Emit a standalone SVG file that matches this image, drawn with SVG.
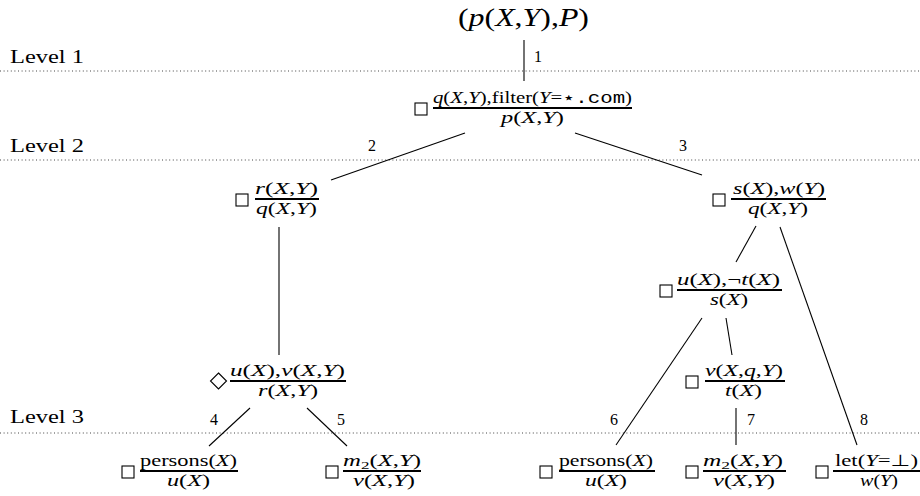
<svg xmlns="http://www.w3.org/2000/svg" width="920" height="496" viewBox="0 0 920 496">
<style>
text{font-family:"Liberation Serif","DejaVu Serif",serif;fill:#000}
.i{font-style:italic}
.tt{font-family:"Liberation Mono","DejaVu Sans Mono",monospace}
.sy{font-family:"DejaVu Sans",sans-serif}
.f{font-size:16px}
.root{font-size:25px}
.lvl{font-size:19px}
.lab{font-size:16px}
.box{fill:none;stroke:#000;stroke-width:1.1}
.bar{stroke:#000;stroke-width:2}
.dot{stroke:#444;stroke-width:1;stroke-dasharray:1 2.6}
#edges line{stroke:#000;stroke-width:1.1}
</style>
<defs>
<rect id="bx" class="box" x="-6" y="-6" width="12" height="12"/>
</defs>
<g id="levels">
<line class="dot" x1="0" y1="71" x2="920" y2="71"/>
<line class="dot" x1="0" y1="160" x2="920" y2="160"/>
<line class="dot" x1="0" y1="433" x2="920" y2="433"/>
<text class="lvl" x="10" y="63" textLength="74" lengthAdjust="spacingAndGlyphs">Level 1</text>
<text class="lvl" x="10" y="152" textLength="74" lengthAdjust="spacingAndGlyphs">Level 2</text>
<text class="lvl" x="10" y="423" textLength="74" lengthAdjust="spacingAndGlyphs">Level 3</text>
</g>
<g id="edges">
<line x1="524" y1="40" x2="524" y2="81"/>
<line x1="465" y1="133" x2="331" y2="180"/>
<line x1="575" y1="133" x2="702" y2="175"/>
<line x1="279" y1="227" x2="279" y2="355"/>
<line x1="756" y1="226" x2="736" y2="262"/>
<line x1="780" y1="227" x2="857" y2="445"/>
<line x1="702" y1="318" x2="616" y2="445"/>
<line x1="726" y1="318" x2="732" y2="355"/>
<line x1="250" y1="408" x2="209" y2="446"/>
<line x1="307" y1="408" x2="347" y2="446"/>
<line x1="736" y1="408" x2="736" y2="445"/>
<text class="lab" x="534" y="62">1</text>
<text class="lab" x="368" y="151">2</text>
<text class="lab" x="679" y="151">3</text>
<text class="lab" x="210" y="425">4</text>
<text class="lab" x="337" y="425">5</text>
<text class="lab" x="610" y="425">6</text>
<text class="lab" x="747" y="425">7</text>
<text class="lab" x="860" y="425">8</text>
</g>
<g id="root">
<text class="root" x="458" y="26" textLength="131" lengthAdjust="spacingAndGlyphs">(<tspan class="i">p</tspan>(<tspan class="i">X</tspan>,<tspan class="i">Y</tspan>),<tspan class="i">P</tspan>)</text>
</g>
<g id="n1">
<use href="#bx" x="421" y="109"/>
<text class="f" x="433" y="103" textLength="199" lengthAdjust="spacingAndGlyphs"><tspan class="i">q</tspan>(<tspan class="i">X</tspan>,<tspan class="i">Y</tspan>),filter(<tspan class="i">Y</tspan>=<tspan class="sy">⋆</tspan><tspan class="tt">.com</tspan>)</text>
<line class="bar" x1="433" y1="108" x2="632" y2="108"/>
<text class="f" x="501" y="123" textLength="63" lengthAdjust="spacingAndGlyphs"><tspan class="i">p</tspan>(<tspan class="i">X</tspan>,<tspan class="i">Y</tspan>)</text>
</g>
<g id="n2">
<use href="#bx" x="242" y="200"/>
<text class="f" x="255" y="194" textLength="63" lengthAdjust="spacingAndGlyphs"><tspan class="i">r</tspan>(<tspan class="i">X</tspan>,<tspan class="i">Y</tspan>)</text>
<line class="bar" x1="255" y1="199" x2="319" y2="199"/>
<text class="f" x="256" y="214" textLength="61" lengthAdjust="spacingAndGlyphs"><tspan class="i">q</tspan>(<tspan class="i">X</tspan>,<tspan class="i">Y</tspan>)</text>
</g>
<g id="n3">
<use href="#bx" x="719" y="200"/>
<text class="f" x="733" y="194" textLength="92" lengthAdjust="spacingAndGlyphs"><tspan class="i">s</tspan>(<tspan class="i">X</tspan>),<tspan class="i">w</tspan>(<tspan class="i">Y</tspan>)</text>
<line class="bar" x1="731" y1="199" x2="826" y2="199"/>
<text class="f" x="748" y="214" textLength="60" lengthAdjust="spacingAndGlyphs"><tspan class="i">q</tspan>(<tspan class="i">X</tspan>,<tspan class="i">Y</tspan>)</text>
</g>
<g id="n4">
<use href="#bx" x="666" y="291"/>
<text class="f" x="677" y="285" textLength="103" lengthAdjust="spacingAndGlyphs"><tspan class="i">u</tspan>(<tspan class="i">X</tspan>),¬<tspan class="i">t</tspan>(<tspan class="i">X</tspan>)</text>
<line class="bar" x1="677" y1="290" x2="782" y2="290"/>
<text class="f" x="710" y="305" textLength="38" lengthAdjust="spacingAndGlyphs"><tspan class="i">s</tspan>(<tspan class="i">X</tspan>)</text>
</g>
<g id="n5">
<polygon class="box" points="218.5,373 226.5,381 218.5,389 210.5,381"/>
<text class="f" x="230" y="376" textLength="115" lengthAdjust="spacingAndGlyphs"><tspan class="i">u</tspan>(<tspan class="i">X</tspan>),<tspan class="i">v</tspan>(<tspan class="i">X</tspan>,<tspan class="i">Y</tspan>)</text>
<line class="bar" x1="230" y1="381" x2="346" y2="381"/>
<text class="f" x="258" y="396" textLength="60" lengthAdjust="spacingAndGlyphs"><tspan class="i">r</tspan>(<tspan class="i">X</tspan>,<tspan class="i">Y</tspan>)</text>
</g>
<g id="n6">
<use href="#bx" x="692" y="382"/>
<text class="f" x="705" y="376" textLength="78" lengthAdjust="spacingAndGlyphs"><tspan class="i">v</tspan>(<tspan class="i">X</tspan>,<tspan class="i">q</tspan>,<tspan class="i">Y</tspan>)</text>
<line class="bar" x1="705" y1="381" x2="785" y2="381"/>
<text class="f" x="725" y="396" textLength="37" lengthAdjust="spacingAndGlyphs"><tspan class="i">t</tspan>(<tspan class="i">X</tspan>)</text>
</g>
<g id="n7">
<use href="#bx" x="128" y="472"/>
<text class="f" x="140" y="466" textLength="97" lengthAdjust="spacingAndGlyphs">persons(<tspan class="i">X</tspan>)</text>
<line class="bar" x1="140" y1="471" x2="238" y2="471"/>
<text class="f" x="167" y="486" textLength="43" lengthAdjust="spacingAndGlyphs"><tspan class="i">u</tspan>(<tspan class="i">X</tspan>)</text>
</g>
<g id="n8">
<use href="#bx" x="332" y="472"/>
<text class="f" x="343" y="466" textLength="78" lengthAdjust="spacingAndGlyphs"><tspan class="i">m</tspan><tspan font-size="11" dy="3">2</tspan><tspan dy="-3">(</tspan><tspan class="i">X</tspan>,<tspan class="i">Y</tspan>)</text>
<line class="bar" x1="343" y1="471" x2="421" y2="471"/>
<text class="f" x="353" y="486" textLength="62" lengthAdjust="spacingAndGlyphs"><tspan class="i">v</tspan>(<tspan class="i">X</tspan>,<tspan class="i">Y</tspan>)</text>
</g>
<g id="n9">
<use href="#bx" x="546" y="472"/>
<text class="f" x="559" y="466" textLength="94" lengthAdjust="spacingAndGlyphs">persons(<tspan class="i">X</tspan>)</text>
<line class="bar" x1="559" y1="471" x2="655" y2="471"/>
<text class="f" x="585" y="486" textLength="42" lengthAdjust="spacingAndGlyphs"><tspan class="i">u</tspan>(<tspan class="i">X</tspan>)</text>
</g>
<g id="n10">
<use href="#bx" x="692" y="472"/>
<text class="f" x="703" y="466" textLength="80" lengthAdjust="spacingAndGlyphs"><tspan class="i">m</tspan><tspan font-size="11" dy="3">2</tspan><tspan dy="-3">(</tspan><tspan class="i">X</tspan>,<tspan class="i">Y</tspan>)</text>
<line class="bar" x1="703" y1="471" x2="786" y2="471"/>
<text class="f" x="713" y="486" textLength="62" lengthAdjust="spacingAndGlyphs"><tspan class="i">v</tspan>(<tspan class="i">X</tspan>,<tspan class="i">Y</tspan>)</text>
</g>
<g id="n11">
<use href="#bx" x="822" y="472"/>
<text class="f" x="835" y="466" textLength="83" lengthAdjust="spacingAndGlyphs">let(<tspan class="i">Y</tspan>=<tspan class="sy">⊥</tspan>)</text>
<line class="bar" x1="833" y1="471" x2="920" y2="471"/>
<text class="f" x="860" y="486" textLength="38" lengthAdjust="spacingAndGlyphs"><tspan class="i">w</tspan>(<tspan class="i">Y</tspan>)</text>
</g>
</svg>
